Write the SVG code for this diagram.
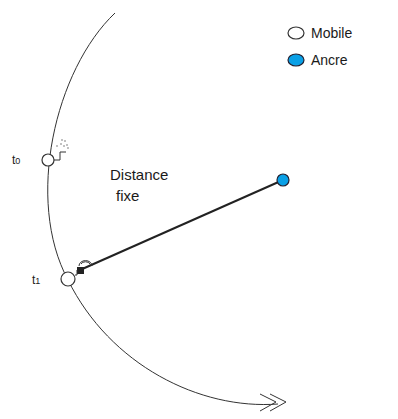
<svg xmlns="http://www.w3.org/2000/svg" width="398" height="419" viewBox="0 0 398 419">
<style>
.t{font-family:"Liberation Sans",Arial,sans-serif;fill:#1a1a1a}
.ln{fill:none;stroke:#333;stroke-width:1}
.mob{fill:#fff;stroke:#333;stroke-width:1.2}
.anc{fill:#0aa0e6;stroke:#223;stroke-width:1.2}
</style>
<rect width="398" height="419" fill="#fff"/>
<g id="connectors">
<path class="ln" d="M115,13 C55,70 25,200 68,280 C110,365 200,410 278,404"/>
<polyline class="ln" stroke-width="1.3" points="260,394 276,402 260,411"/>
<polyline class="ln" stroke-width="1.3" points="270,394 286,402 270,411"/>
<line x1="80" y1="270" x2="283" y2="180" stroke="#222" stroke-width="2"/>
</g>
<g id="legend">
<ellipse class="mob" cx="296" cy="33" rx="8" ry="6"/>
<text class="t" x="311" y="38" font-size="14">Mobile</text>
<ellipse class="anc" cx="296" cy="60" rx="8" ry="6"/>
<text class="t" x="311" y="65" font-size="14">Ancre</text>
</g>
<g id="anchor">
<circle class="anc" cx="283" cy="180" r="6"/>
</g>
<g id="t0">
<circle class="mob" cx="48" cy="160" r="6"/>
<polyline class="ln" points="54,160 60,160 60,152 66,152"/>
<g fill="#555">
<circle cx="57" cy="146" r="0.7"/><circle cx="61" cy="144" r="0.7"/><circle cx="64" cy="146" r="0.7"/><circle cx="67" cy="145" r="0.7"/><circle cx="62" cy="140" r="0.7"/><circle cx="65" cy="141" r="0.7"/><circle cx="68" cy="148" r="0.7"/>
</g>
<text class="t" x="12" y="164" font-size="12">t<tspan font-size="9">0</tspan></text>
</g>
<g id="t1">
<circle class="mob" cx="68" cy="279" r="7"/>
<rect x="77" y="267" width="7" height="7" fill="#222"/>
<polyline class="ln" points="75,275 77,275 77,270"/>
<path class="ln" d="M79,266 A6,5 0 0 1 92,266"/>
<path class="ln" d="M81,264 A5,4 0 0 1 90,264"/>
<text class="t" x="32" y="284" font-size="12">t<tspan font-size="9">1</tspan></text>
</g>
<g id="label">
<text class="t" x="110" y="180" font-size="15">Distance</text>
<text class="t" x="116" y="201" font-size="15">fixe</text>
</g>
</svg>
